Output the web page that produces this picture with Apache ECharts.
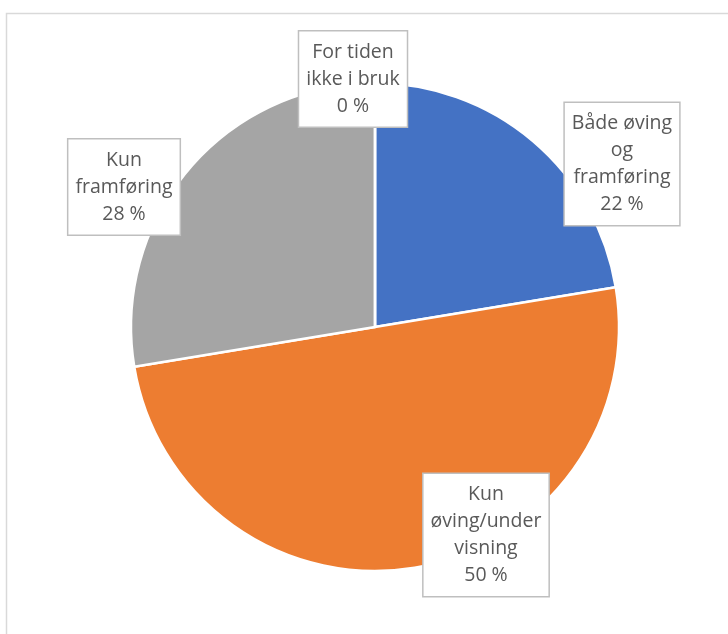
<!DOCTYPE html>
<html>
<head>
<meta charset="utf-8">
<script src="https://cdn.jsdelivr.net/npm/echarts@6/dist/echarts.min.js"></script>
<style>html,body{margin:0;padding:0;background:#fff;}#c{width:728px;height:634px;}</style>
</head>
<body>
<div id="c"></div>
<script>
const categories = ['Både øving og framføring', 'Kun øving/under visning', 'Kun framføring', 'For tiden ikke i bruk'];
const labelTexts = ['Både øving\nog\nframføring', 'Kun\nøving/under\nvisning', 'Kun\nframføring', 'For tiden\nikke i bruk'];
const values = [22.4, 50.0, 27.6, 0];
const colors = ['#4472c4', '#ed7d31', '#a5a5a5', '#ffc000'];
const labelCenters = [[622, 164], [486, 535], [124, 187], [353, 79]];

const chart = echarts.init(document.getElementById('c'));
chart.setOption({
  animation: false,
  graphic: [{
    type: 'rect', shape: {x: 6.5, y: 13.5, width: 740, height: 640},
    style: {fill: 'none', stroke: '#d9d9d9', lineWidth: 1.5}, z: -10
  }],
  series: [{
    type: 'pie',
    center: [375, 327],
    radius: 244,
    startAngle: 90,
    clockwise: true,
    stillShowZeroSum: true,
    data: categories.map((c, i) => ({name: c, value: values[i], itemStyle: {color: colors[i]}})),
    itemStyle: {borderColor: '#ffffff', borderWidth: 2.5},
    label: {
      show: true,
      position: 'outside',
      overflow: 'none',
      formatter: p => labelTexts[p.dataIndex] + '\n' + Math.round(p.value) + ' %',
      fontFamily: 'Open Sans',
      fontSize: 19.5,
      lineHeight: 27,
      color: '#595959',
      align: 'center',
      backgroundColor: '#ffffff',
      borderColor: '#bfbfbf',
      borderWidth: 1.5,
      padding: [7, 7, 7, 7]
    },
    labelLine: {show: false},
    labelLayout: p => ({x: labelCenters[p.dataIndex][0], y: labelCenters[p.dataIndex][1], align: 'center', verticalAlign: 'middle'}),
    emphasis: {disabled: true}
  }]
});
</script>
</body>
</html>
